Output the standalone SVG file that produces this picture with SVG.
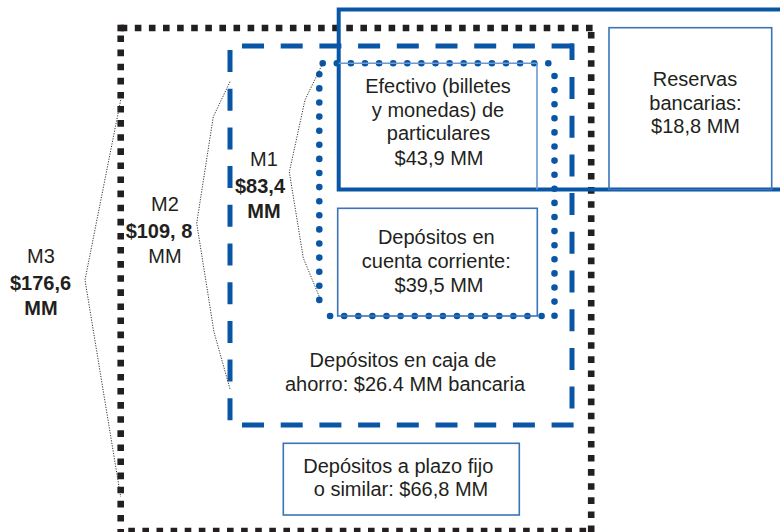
<svg xmlns="http://www.w3.org/2000/svg" width="780" height="532" viewBox="0 0 780 532">
<style>
  text { font-family: "Liberation Sans", Arial, sans-serif; font-size: 20px; fill: #231f20; text-anchor: middle; }
  .b { font-weight: bold; }
  .sq { stroke: #231f20; stroke-width: 6.6; fill: none; stroke-dasharray: 6.6 7.5; }
  .dash { stroke: #0a56a6; stroke-width: 5; fill: none; stroke-dasharray: 22 16.7; }
  .dot { stroke: #0a56a6; stroke-width: 6.6; fill: none; stroke-linecap: round; stroke-dasharray: 0.01 14.09; }
  .solid { stroke: #0a56a6; stroke-width: 4; fill: none; }
  .thin { stroke: #3b74bb; stroke-width: 1.6; fill: none; }
  .light { stroke: #6c9ad0; stroke-width: 1.6; fill: none; }
  .brk { stroke: #333; stroke-width: 1; fill: none; stroke-dasharray: 1.2 1.4; }
</style>
<rect width="780" height="532" fill="#ffffff"/>

<g id="m3">
  <line class="sq" x1="120.7" y1="28" x2="595" y2="28"/>
  <rect x="117.4" y="24.7" width="6.6" height="6.6" fill="#231f20"/>
  <line class="sq" x1="120.7" y1="35.5" x2="120.7" y2="532"/>
  <line class="sq" x1="591.2" y1="32" x2="591.2" y2="532"/>
  <line class="sq" x1="120.7" y1="531" x2="594" y2="531" stroke-dashoffset="6.5"/>
  <text x="41" y="262.7">M3</text>
  <text class="b" x="40.5" y="290">$176,6</text>
  <text class="b" x="41" y="315">MM</text>
</g>

<g id="base">
  <path class="solid" d="M790,9.5 H338.7 V189.5 H790"/>
</g>

<g id="m2">
  <line class="dash" x1="230" y1="46" x2="575" y2="46" stroke-dashoffset="26.7"/>
  <line class="dash" x1="572" y1="43.5" x2="572" y2="60" stroke-dasharray="none"/>
  <line class="dash" x1="572" y1="77" x2="572" y2="425"/>
  <line class="dash" x1="230" y1="425" x2="575" y2="425" stroke-dashoffset="26.7"/>
  <line class="dash" x1="230" y1="46" x2="230" y2="425" stroke-dashoffset="34.7"/>
  <text x="165" y="210.7">M2</text>
  <text class="b" x="159" y="237.7">$109, 8</text>
  <text x="165" y="263.3">MM</text>
</g>

<g id="m1">
  <line class="dot" x1="322.7" y1="63.3" x2="549" y2="63.3"/>
  <line class="dot" x1="554.5" y1="76" x2="554.5" y2="316.5"/>
  <line class="dot" x1="541.6" y1="316" x2="330" y2="316"/>
  <line class="dot" x1="319.3" y1="74.3" x2="319.3" y2="314"/>
  <text x="264" y="166">M1</text>
  <text class="b" x="260" y="192.7">$83,4</text>
  <text class="b" x="264" y="218.3">MM</text>
</g>

<g id="efectivo">
  <path class="light" d="M338.7,63.3 H537 V189.5"/>
  <text x="438" y="93.3">Efectivo (billetes</text>
  <text x="438" y="116.8">y monedas) de</text>
  <text x="438.5" y="140.3">particulares</text>
  <text x="439" y="164.8">$43,9 MM</text>
</g>

<g id="reservas">
  <rect class="thin" x="609" y="27.7" width="162.7" height="161.8"/>
  <text x="695" y="86">Reservas</text>
  <text x="695.5" y="109.7">bancarias:</text>
  <text x="695.5" y="133.3">$18,8 MM</text>
</g>

<g id="cuenta">
  <rect class="thin" x="337.7" y="208.3" width="199.6" height="107.7"/>
  <text x="436.3" y="244.3">Depósitos en</text>
  <text x="436.3" y="267.8">cuenta corriente:</text>
  <text x="439" y="291.7">$39,5 MM</text>
</g>

<g id="caja">
  <text x="403" y="367.3">Depósitos en caja de</text>
  <text x="405" y="390.7">ahorro: $26.4 MM bancaria</text>
</g>

<g id="plazo">
  <rect class="thin" x="283.3" y="443.3" width="236" height="71.7"/>
  <text x="398.3" y="472.7">Depósitos a plazo fijo</text>
  <text x="401" y="496">o similar: $66,8 MM</text>
</g>

<g id="connectors">
  <polyline class="brk" points="322.7,63.3 305,100 289.3,172 303.3,258 320,298.3"/>
  <polyline class="brk" points="230,81.7 213.3,116.7 196.7,223.3 214,332 230,389"/>
  <polyline class="brk" points="120.7,100 85,280 120.7,497"/>
</g>
</svg>
